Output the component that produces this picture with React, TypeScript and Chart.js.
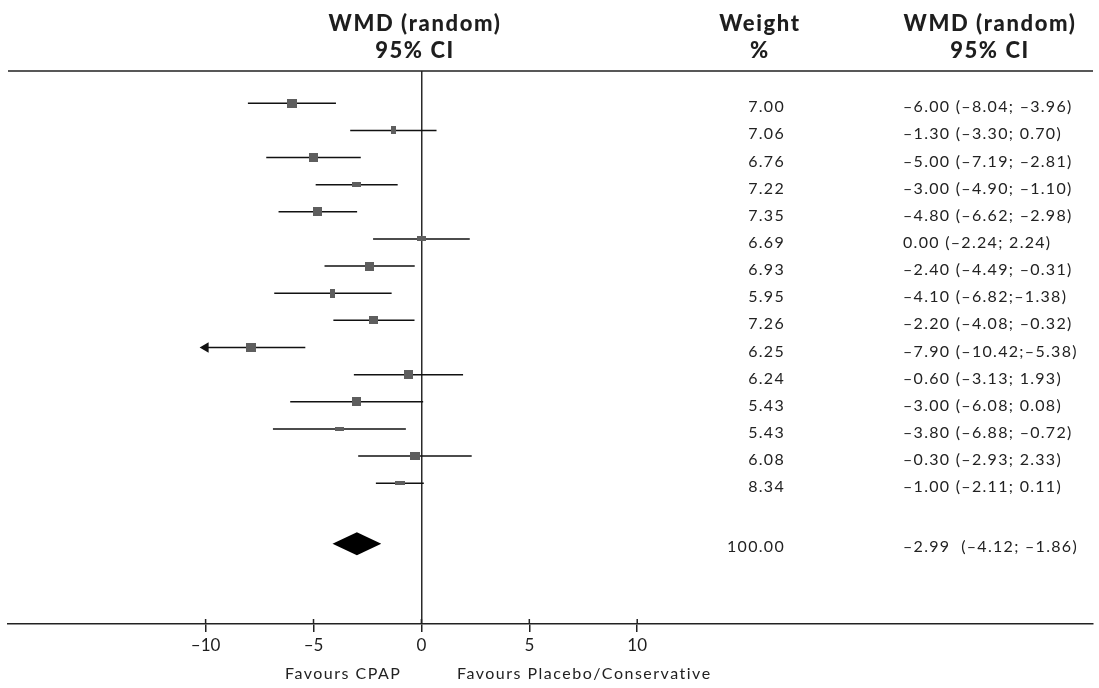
import React, { useEffect, useRef } from "react";
import { Chart, registerables } from "chart.js";

Chart.register(...registerables);

// ---- data ----
const studyEstimates = [-6.0, -1.3, -5.0, -3.0, -4.8, 0.0, -2.4, -4.1, -2.2, -7.9, -0.6, -3.0, -3.8, -0.3, -1.0];
const studyLower = [-8.04, -3.3, -7.19, -4.9, -6.62, -2.24, -4.49, -6.82, -4.08, -10.42, -3.13, -6.08, -6.88, -2.93, -2.11];
const studyUpper = [-3.96, 0.7, -2.81, -1.1, -2.98, 2.24, -0.31, -1.38, -0.32, -5.38, 1.93, 0.08, -0.72, 2.33, 0.11];
const studyWeights = [7.0, 7.06, 6.76, 7.22, 7.35, 6.69, 6.93, 5.95, 7.26, 6.25, 6.24, 5.43, 5.43, 6.08, 8.34];
const ciLabels = [
  "\u20136.00 (\u20138.04; \u20133.96)",
  "\u20131.30 (\u20133.30; 0.70)",
  "\u20135.00 (\u20137.19; \u20132.81)",
  "\u20133.00 (\u20134.90; \u20131.10)",
  "\u20134.80 (\u20136.62; \u20132.98)",
  "0.00 (\u20132.24; 2.24)",
  "\u20132.40 (\u20134.49; \u20130.31)",
  "\u20134.10 (\u20136.82;\u20131.38)",
  "\u20132.20 (\u20134.08; \u20130.32)",
  "\u20137.90 (\u201310.42;\u20135.38)",
  "\u20130.60 (\u20133.13; 1.93)",
  "\u20133.00 (\u20136.08; 0.08)",
  "\u20133.80 (\u20136.88; \u20130.72)",
  "\u20130.30 (\u20132.93; 2.33)",
  "\u20131.00 (\u20132.11; 0.11)",
];
const pooledEstimate = [-2.99];
const pooledLower = [-4.12];
const pooledUpper = [-1.86];
const pooledWeight = [100.0];
const pooledLabel = ["\u20132.99  (\u20134.12; \u20131.86)"];
const xTicks = [-10, -5, 0, 5, 10];
const headerLeft = ["WMD (random)", "95% CI"];
const headerWeight = ["Weight", "%"];
const headerRight = ["WMD (random)", "95% CI"];
const favoursLabels = ["Favours CPAP", "Favours Placebo/Conservative"];

// ---- styles ----
const PLOT_MIN = -10; // lower drawing limit (arrow beyond)
const POOLED_ROW = 16.23;
const markerSizes: [number, number][] = [
  [10, 9], [5, 8], [9, 9], [9, 5], [9, 9], [9, 5], [9, 9], [5, 9],
  [9, 8], [10, 9], [9, 9], [9, 9], [9, 4], [10, 8], [10, 4],
];
const FONT = "Lato, 'Open Sans', sans-serif";
const TEXT = "#222";
const W = 1099;
const H = 688;

const fmtTick = (v: number) => (v < 0 ? "\u2013" + Math.abs(v) : String(v));

export default function App() {
  const ref = useRef<HTMLCanvasElement>(null);

  useEffect(() => {
    const canvas = ref.current!;
    const markerImgs = markerSizes.map(([w, h]) => {
      const c = document.createElement("canvas");
      c.width = w;
      c.height = h;
      const g = c.getContext("2d")!;
      g.fillStyle = "#5e5e5e";
      g.fillRect(0, 0, w, h);
      return c;
    });

    const datasets: any[] = [];
    datasets.push({
      type: "line",
      showLine: false,
      data: studyEstimates.map((v, i) => ({ x: v, y: i })),
      pointStyle: markerImgs,
      pointRadius: 5,
      pointHoverRadius: 5,
    });
    studyEstimates.forEach((_, i) => {
      const lo = studyLower[i];
      const clipped = lo < PLOT_MIN;
      datasets.push({
        type: "line",
        data: [
          { x: clipped ? PLOT_MIN : lo, y: i },
          { x: studyUpper[i], y: i },
        ],
        borderColor: "#111",
        borderWidth: 1.5,
        pointRadius: clipped ? [6, 0] : 0,
        pointStyle: "triangle",
        pointRotation: -90,
        pointBackgroundColor: "#111",
        pointBorderColor: "#111",
        pointBorderWidth: 0,
      });
    });

    const decor = {
      id: "forestDecor",
      afterDraw(chart: any) {
        const ctx: CanvasRenderingContext2D = chart.ctx;
        const xs = chart.scales.x;
        const ys = chart.scales.y;
        const ca = chart.chartArea;
        ctx.save();
        // top rule
        ctx.strokeStyle = "#222";
        ctx.lineWidth = 1.5;
        ctx.beginPath();
        ctx.moveTo(ca.left, ca.top);
        ctx.lineTo(ca.right, ca.top);
        // upper parts of axis ticks
        xTicks.forEach((v) => {
          const px = xs.getPixelForValue(v);
          ctx.moveTo(px, ca.bottom - 5);
          ctx.lineTo(px, ca.bottom);
        });
        ctx.stroke();

        // pooled diamond
        const py = ys.getPixelForValue(POOLED_ROW);
        const half = 11.5;
        ctx.fillStyle = "#000";
        ctx.beginPath();
        ctx.moveTo(xs.getPixelForValue(pooledLower[0]), py);
        ctx.lineTo(xs.getPixelForValue(pooledEstimate[0]), py - half);
        ctx.lineTo(xs.getPixelForValue(pooledUpper[0]), py);
        ctx.lineTo(xs.getPixelForValue(pooledEstimate[0]), py + half);
        ctx.closePath();
        ctx.fill();

        // headers
        (ctx as any).letterSpacing = "1.6px";
        ctx.fillStyle = "#1e1e1e";
        ctx.font = `900 22px ${FONT}`;
        ctx.textAlign = "center";
        ctx.textBaseline = "middle";
        const hy = [24, 51];
        headerLeft.forEach((t, k) => ctx.fillText(t, 415, hy[k]));
        headerWeight.forEach((t, k) => ctx.fillText(t, 760, hy[k]));
        headerRight.forEach((t, k) => ctx.fillText(t, 990, hy[k]));

        // weight + CI columns
        ctx.font = `16px ${FONT}`;
        ctx.fillStyle = TEXT;
        ctx.textBaseline = "alphabetic";
        (ctx as any).letterSpacing = "1.3px";
        studyWeights.forEach((w, i) => {
          const y = ys.getPixelForValue(i) + 9;
          ctx.textAlign = "right";
          ctx.fillText(w.toFixed(2), 785, y);
          ctx.textAlign = "left";
          ctx.fillText(ciLabels[i], 903, y);
        });
        const pyt = py + 8;
        ctx.textAlign = "right";
        ctx.fillText(pooledWeight[0].toFixed(2), 785, pyt);
        ctx.textAlign = "left";
        ctx.fillText(pooledLabel[0], 903, pyt);

        // favours labels
        ctx.textBaseline = "middle";
        (ctx as any).letterSpacing = "1.5px";
        ctx.fillText(favoursLabels[0], 285, 674);
        ctx.fillText(favoursLabels[1], 457, 674);
        ctx.restore();
      },
    };

    const chart = new Chart(canvas, {
      type: "line",
      data: { datasets },
      options: {
        animation: false,
        responsive: false,
        maintainAspectRatio: false,
        devicePixelRatio: 1,
        events: [],
        layout: { padding: { top: 71, left: 8, right: 0, bottom: 30 } },
        plugins: { legend: { display: false }, tooltip: { enabled: false } },
        scales: {
          x: {
            type: "linear",
            position: "bottom",
            min: -19.157,
            max: 31.12,
            afterBuildTicks: (s: any) => {
              s.ticks = xTicks.map((v) => ({ value: v }));
            },
            afterFit: (s: any) => {
              s.height = 34;
            },
            border: { display: true, color: "#222", width: 1.5 },
            grid: {
              drawOnChartArea: true,
              drawTicks: true,
              tickLength: 8,
              tickColor: "#222",
              lineWidth: 1.5,
              color: (c: any) => (c.tick && c.tick.value === 0 ? "#2a2a2a" : "rgba(0,0,0,0)"),
            },
            ticks: {
              autoSkip: false,
              maxRotation: 0,
              padding: 3,
              color: "#1e1e1e",
              font: { family: FONT, size: 17 },
              callback: (v: any) => fmtTick(Number(v)),
            },
          },
          y: {
            type: "linear",
            display: false,
            reverse: true,
            min: -1.19,
            max: 19.19,
          },
        },
      },
      plugins: [decor],
    });
    return () => chart.destroy();
  }, []);

  return (
    <div style={{ position: "fixed", left: 0, top: 0, width: W, height: H, background: "#fff" }}>
      <canvas ref={ref} width={W} height={H} style={{ display: "block", width: W, height: H }} />
    </div>
  );
}
